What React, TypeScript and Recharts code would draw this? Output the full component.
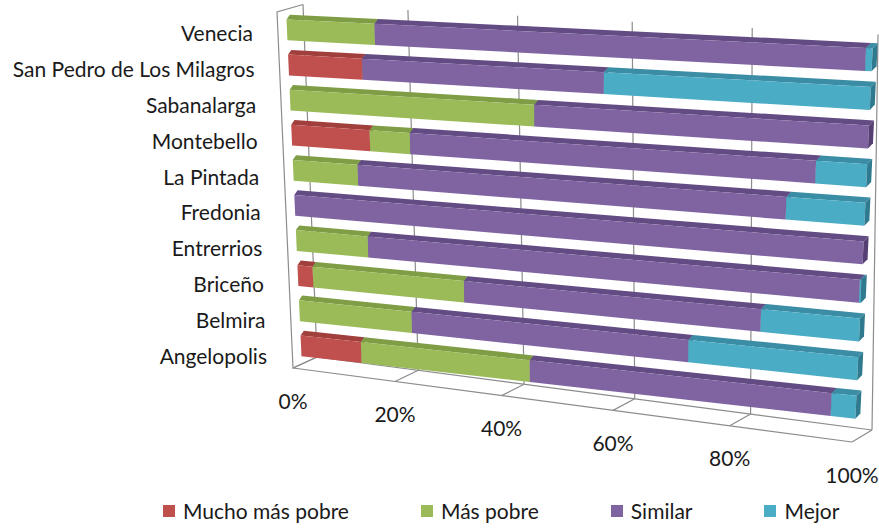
import { BarChart, Bar, XAxis, YAxis, CartesianGrid, Legend } from "recharts";

const municipios = [
  "Venecia",
  "San Pedro de Los Milagros",
  "Sabanalarga",
  "Montebello",
  "La Pintada",
  "Fredonia",
  "Entrerrios",
  "Briceño",
  "Belmira",
  "Angelopolis",
];

// porcentajes
const muchoMasPobre = [0, 14, 0, 15, 0, 0, 0, 3, 0, 12];
const masPobre = [16.5, 0, 45, 7.5, 12.5, 0, 14, 29, 22, 32];
const similar = [82.5, 43, 55, 69.5, 75, 100, 85.7, 52, 50, 52];
const mejor = [1, 43, 0, 8, 12.5, 0, 0.3, 16, 28, 4];

const xTicks = [0, 20, 40, 60, 80, 100];

const SERIES = [
  { key: "muchoMasPobre", name: "Mucho más pobre", front: "#C0504D", top: "#A13F3C", side: "#8E3634" },
  { key: "masPobre", name: "Más pobre", front: "#9BBB59", top: "#7F9D45", side: "#6E8A3A" },
  { key: "similar", name: "Similar", front: "#8064A2", top: "#634B84", side: "#564073" },
  { key: "mejor", name: "Mejor", front: "#4BACC6", top: "#3A8DA4", side: "#2F7A8E" },
];

const data = municipios.map((name, i) => ({
  name,
  muchoMasPobre: muchoMasPobre[i],
  masPobre: masPobre[i],
  similar: similar[i],
  mejor: mejor[i],
}));

// layout of the flat chart that recharts computes
const W = 879;
const H = 529;
const Y_AXIS_W = 100;
const X_AXIS_H = 30;
const LEGEND_H = 44;
const PLOT_LEFT = Y_AXIS_W;
const PLOT_W = W - Y_AXIS_W;
const PLOT_TOP = 0;
const PLOT_H = H - X_AXIS_H - LEGEND_H;

// perspective: flat coords -> screen
const persp = (u: number) => u / (1 + 0.12 * (1 - u));
const lerp = (a: number, b: number, t: number) => a + (b - a) * t;

const project = (u: number, v: number): [number, number] => {
  const p = persp(u);
  const lx = lerp(286.2, 301.8, v);
  const ly = lerp(12.45, 363.5, v);
  const rx = lerp(873, 855, v);
  const ry = lerp(40.7, 426.7, v);
  return [lerp(lx, rx, p), lerp(ly, ry, p)];
};

const depth = (u: number): [number, number] => {
  const p = persp(u);
  return [3.3 + 1.7 * p, -4.7 - 0.5 * p];
};

const backTop = (u: number): [number, number] => {
  const p = persp(u);
  return [303 + 575 * p, 4.5 + 30 * p];
};
const backBottom = (u: number): [number, number] => {
  const p = persp(u);
  return [317 + 555 * p, 357 + 73 * p];
};
const frontBottom = (u: number): [number, number] => {
  const p = persp(u);
  return [293 + 559 * p, 368 + 74 * p];
};

const pts = (list: [number, number][]) => list.map((q) => q.join(",")).join(" ");
const add = (a: [number, number], b: [number, number]): [number, number] => [a[0] + b[0], a[1] + b[1]];

const FRAME = "#8c8c8c";
const FONT = 21;

const Box3D = (props: any) => {
  const { x, y, width, height, front, top, side } = props;
  if (!width || width <= 0.01) return null;
  const u0 = (x - PLOT_LEFT) / PLOT_W;
  const u1 = (x + width - PLOT_LEFT) / PLOT_W;
  const v0 = (y - PLOT_TOP) / PLOT_H;
  const v1 = (y + height - PLOT_TOP) / PLOT_H;
  const a = project(u0, v0);
  const b = project(u1, v0);
  const c = project(u1, v1);
  const d = project(u0, v1);
  const da = depth(u0);
  const db = depth(u1);
  return (
    <g>
      <polygon points={pts([a, b, add(b, db), add(a, da)])} fill={top} />
      <polygon points={pts([a, b, c, d])} fill={front} />
      <polygon points={pts([b, c, add(c, db), add(b, db)])} fill={side} />
    </g>
  );
};

const WallLine = (props: any) => {
  const u = (props.x1 - PLOT_LEFT) / PLOT_W;
  const t = backTop(u);
  const b = backBottom(u);
  const f = frontBottom(u);
  return (
    <g key={`wall-${props.index}`}>
      <line x1={t[0]} y1={t[1]} x2={b[0]} y2={b[1]} stroke={FRAME} strokeWidth={1.2} />
      <line x1={b[0]} y1={b[1]} x2={f[0]} y2={f[1]} stroke={FRAME} strokeWidth={1.2} />
      {u < 0.01 && (
        <>
          <polyline
            points={pts([backTop(0), [277, 12], frontBottom(0), backBottom(0)])}
            fill="none"
            stroke={FRAME}
            strokeWidth={1.2}
          />
          <line x1={frontBottom(0)[0]} y1={frontBottom(0)[1]} x2={frontBottom(1)[0]} y2={frontBottom(1)[1]} stroke={FRAME} strokeWidth={1.2} />
          <line x1={backBottom(0)[0]} y1={backBottom(0)[1]} x2={backBottom(1)[0]} y2={backBottom(1)[1]} stroke={FRAME} strokeWidth={1.2} />
        </>
      )}
    </g>
  );
};

const PctTick = (props: any) => {
  const { x, payload } = props;
  const u = (x - PLOT_LEFT) / PLOT_W;
  const [fx, fy] = frontBottom(u);
  return (
    <text x={fx} y={fy + 32} textAnchor="middle" dominantBaseline="central" fontSize={FONT} fill="#1a1a1a">
      {payload.value}%
    </text>
  );
};

const CategoryTick = (props: any) => {
  const { y, payload } = props;
  const v = (y - PLOT_TOP) / PLOT_H;
  return (
    <text
      x={252.2 + 15.6 * v}
      y={15 + 358 * v}
      textAnchor="end"
      dominantBaseline="central"
      fontSize={FONT}
      fill="#1a1a1a"
    >
      {payload.value}
    </text>
  );
};

const LegendContent = () => (
  <div
    style={{
      height: LEGEND_H,
      boxSizing: "border-box",
      paddingTop: 8,
      paddingLeft: 163,
      display: "flex",
      gap: 72,
      fontSize: FONT,
      color: "#1a1a1a",
      lineHeight: "22px",
    }}
  >
    {SERIES.map((s) => (
      <div key={s.key} style={{ display: "flex", alignItems: "center", gap: 8 }}>
        <span style={{ width: 12, height: 12, background: s.front, display: "inline-block" }} />
        <span>{s.name}</span>
      </div>
    ))}
  </div>
);

export default function App() {
  return (
    <div
      style={{
        position: "absolute",
        left: 0,
        top: 0,
        width: W,
        height: H,
        background: "#fff",
        fontFamily: "Lato, 'Open Sans', sans-serif",
      }}
    >
      <BarChart
        width={W}
        height={H}
        data={data}
        layout="vertical"
        margin={{ top: 0, right: 0, bottom: 0, left: 0 }}
        barCategoryGap="20%"
      >
        <CartesianGrid horizontal={false} vertical={WallLine} />
        <XAxis
          type="number"
          domain={[0, 100]}
          ticks={xTicks}
          interval={0}
          height={X_AXIS_H}
          axisLine={false}
          tickLine={false}
          tick={PctTick}
        />
        <YAxis
          type="category"
          dataKey="name"
          width={Y_AXIS_W}
          interval={0}
          axisLine={false}
          tickLine={false}
          tick={CategoryTick}
        />
        {SERIES.map((s) => (
          <Bar
            key={s.key}
            dataKey={s.key}
            name={s.name}
            stackId="a"
            fill={s.front}
            isAnimationActive={false}
            shape={(p: any) => <Box3D {...p} front={s.front} top={s.top} side={s.side} />}
          />
        ))}
        <Legend verticalAlign="bottom" content={LegendContent} wrapperStyle={{ left: 0, width: W }} />
      </BarChart>
    </div>
  );
}
